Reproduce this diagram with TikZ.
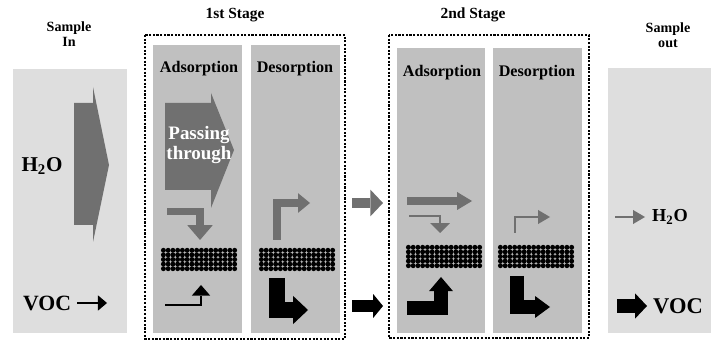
\documentclass[tikz,border=0pt]{standalone}
\usepackage{fontspec}
\setmainfont{Liberation Serif}
\usetikzlibrary{arrows.meta, positioning}
\definecolor{lightpanel}{HTML}{DEDEDE}
\definecolor{stagepanel}{HTML}{C0C0C0}
\definecolor{flowgray}{HTML}{707070}
\tikzset{
    line join=miter,
    sidebox/.style = {fill=lightpanel}, % sample in / sample out panels
    stagebox/.style = {fill=stagepanel}, % adsorption / desorption columns
    frame/.style = {draw, line width=1.6pt, dash pattern=on 1.5pt off 1.1pt},
    head/.style = {font=\bfseries\fontsize{10}{11}\selectfont, align=center},
    stagehead/.style = {font=\bfseries\fontsize{11}{12}\selectfont},
    colhead/.style = {font=\bfseries\fontsize{11.5}{13}\selectfont},
    chem/.style = {font=\bfseries\fontsize{15}{17}\selectfont, inner sep=0pt},
    % flow arrows: line width, head width, head length
    flow/.style n args = {3}{line width=#1,
        -{Triangle[width=#2, length=#3, line width=0pt]}},
    grain/.style = {fill=black},
}
\begin{document}
\begin{tikzpicture}[x=0.025cm, y=-0.025cm]
\useasboundingbox (0,0) rectangle (713,341);

% panels
\fill[sidebox] (13,69) rectangle (127,333);
\fill[sidebox] (608,68) rectangle (711,333);
\fill[stagebox] (153,45) rectangle (242,333);
\fill[stagebox] (251,45) rectangle (340,333);
\fill[stagebox] (397,48) rectangle (485,333);
\fill[stagebox] (493,48) rectangle (582,333);
\draw[frame] (145,35) rectangle (345,339);
\draw[frame] (389,35) rectangle (589,338);

% headings
\node[head] (in) at (69,34) {Sample\\In};
\node[head] (out) at (668,35) {Sample\\out};
\node[stagehead] (st1) at (235,15) {1st Stage};
\node[stagehead] (st2) at (473,15) {2nd Stage};
\node[colhead] (ads1) at (199,69) {Adsorption};
\node[colhead] (des1) at (295,69) {Desorption};
\node[colhead] (ads2) at (442,73) {Adsorption};
\node[colhead] (des2) at (537,73) {Desorption};

% sample in
\fill[flowgray] (74,103) -- (93,103) -- (93,87) -- (109,165) -- (93,242)
    -- (93,225) -- (74,225) -- cycle;
\node[chem] (h2oin) at (42,166) {H\textsubscript{2}O};
\node[chem, font=\bfseries\fontsize{15.5}{17}\selectfont] (vocin) at (47,303) {VOC};
\draw[flow={1.4pt}{11pt}{6.5pt}] (77,303) -- (107,303);

% 1st stage, adsorption
\fill[flowgray] (165,103) -- (211,103) -- (211,93) -- (234,150) -- (211,208)
    -- (211,190) -- (165,190) -- cycle;
\node[font=\bfseries\fontsize{13.5}{14}\selectfont, text=white, align=center]
    (pass) at (199,145) {Passing\\through};
\draw[flowgray, flow={5pt}{18pt}{10.5pt}] (167,211.5) -| (200,240);
\draw[flow={1.4pt}{13pt}{7.5pt}] (165,305) -| (201,285);

% 1st stage, desorption
\draw[flowgray, flow={5.7pt}{14pt}{8.5pt}] (277,240) |- (310,203);
\draw[flow={11.3pt}{20pt}{10.6pt}] (277,278) |- (308,310);

% between the stages
\draw[flowgray, flow={7.8pt}{19pt}{9pt}] (352,203) -- (383,203);
\draw[flow={8.5pt}{17pt}{7pt}] (352,306) -- (383,306);

% 2nd stage, adsorption
\draw[flowgray, flow={5.7pt}{12.8pt}{10.6pt}] (407,201) -- (472,201);
\draw[flowgray, flow={2pt}{14pt}{7pt}] (409,216) -| (440,233);
\draw[flow={10.6pt}{17pt}{10pt}] (407,308) -| (441,277);

% 2nd stage, desorption
\draw[flowgray, flow={2pt}{10pt}{8.5pt}] (515,233) |- (550,217);
\draw[flow={10.6pt}{15.6pt}{10.6pt}] (517,276) |- (550,307);

% adsorbent beds
\foreach \bx/\by in {161/248, 259/248, 406/245, 498/245}
  \foreach \i in {0,...,15}
    \foreach \j in {0,...,4}
      \fill[grain] (\bx+2.4+\i*4.75, \by+2.3+\j*4.6) circle[radius=0.062cm];

% sample out
\draw[flowgray, flow={2pt}{10pt}{8.5pt}] (615,217) -- (645,217);
\node[chem, font=\bfseries\fontsize{13}{15}\selectfont] (h2oout) at (670,217) {H\textsubscript{2}O};
\draw[flow={10pt}{18pt}{8.5pt}] (617,306) -- (647,306);
\node[chem, font=\bfseries\fontsize{16}{18}\selectfont] (vocout) at (678,306) {VOC};
\end{tikzpicture}
\end{document}
